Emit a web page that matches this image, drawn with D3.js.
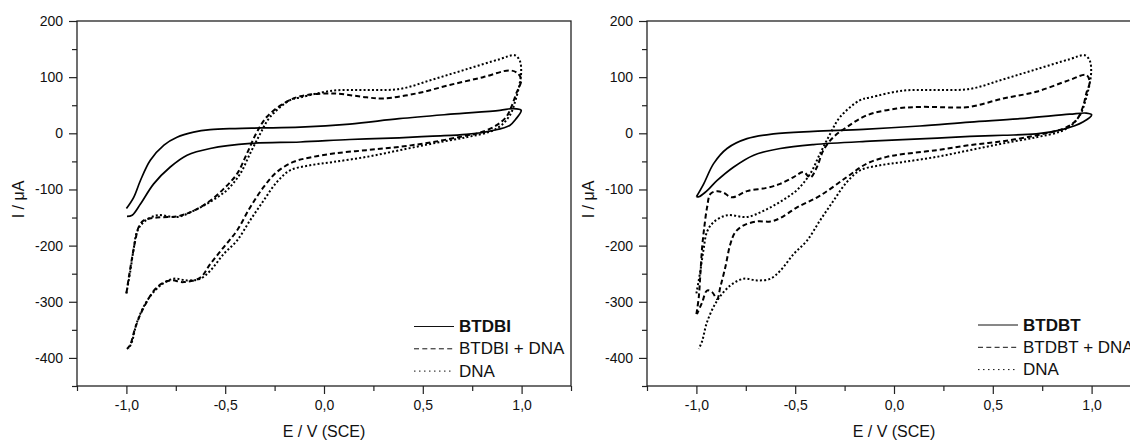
<!DOCTYPE html>
<html>
<head>
<meta charset="utf-8">
<title>Cyclic voltammograms</title>
<script src="https://cdn.jsdelivr.net/npm/d3@7"></script>
<style>
  body { margin: 0; background: #fff; }
  svg text { font-family: "Liberation Sans", Arial, sans-serif; fill: #111; }
</style>
</head>
<body>
<script>
// [E (V vs SCE), I (uA)], forward scan then reverse scan
const btdbi = [[-1.0,-134],[-0.963,-114],[-0.929,-84],[-0.879,-48],[-0.81,-21],[-0.744,-7],[-0.66,2],[-0.576,6.5],
  [-0.45,8.5],[-0.32,9.5],[-0.12,11],[0.13,16.5],[0.38,26],[0.64,34],[0.89,41],[0.955,44],[0.998,41],[0.97,25],
  [0.94,14],[0.855,5],[0.72,-2],[0.55,-5],[0.38,-8],[0.13,-11],[-0.12,-15.5],[-0.37,-18],[-0.576,-27],[-0.693,-39],
  [-0.778,-60],[-0.862,-90],[-0.929,-126],[-0.971,-146],[-0.997,-148]]

const btdbiDna = [[-1.0,-285],[-0.988,-257],[-0.971,-221],[-0.955,-191],[-0.938,-167],[-0.912,-155],[-0.845,-150],
  [-0.744,-148],[-0.66,-138],[-0.576,-120],[-0.508,-99],[-0.44,-72],[-0.39,-36],[-0.34,2],[-0.29,29],[-0.205,53],
  [-0.12,66],[0.047,71],[0.215,64],[0.3,62],[0.468,71],[0.636,86],[0.805,100],[0.94,112],[0.98,107],[0.998,95],
  [0.973,71],[0.948,47],[0.922,29],[0.872,14],[0.788,1],[0.72,-4],[0.552,-15.5],[0.384,-24],[0.215,-30],[0.047,-36],
  [-0.07,-43],[-0.155,-51],[-0.239,-69],[-0.306,-96],[-0.374,-132],[-0.44,-173],[-0.508,-203],[-0.576,-233],
  [-0.626,-257],[-0.71,-265],[-0.778,-262],[-0.845,-274],[-0.912,-310],[-0.955,-346],[-0.98,-376],[-0.997,-384]]

// DNA alone, the same trace in both panels
const dna = [[-1.0,-285],[-0.98,-245],[-0.963,-205],[-0.946,-175],[-0.912,-158],[-0.845,-146],[-0.744,-149],
  [-0.66,-138],[-0.576,-122],[-0.491,-101],[-0.424,-72],[-0.374,-36],[-0.323,-1],[-0.273,29],[-0.172,59],[-0.12,64],
  [0.047,76],[0.215,77],[0.384,79],[0.552,96],[0.72,114],[0.889,132],[0.965,139],[0.99,130],[0.998,112],[0.99,88],
  [0.97,60],[0.945,35],[0.9,15],[0.84,3],[0.72,-7],[0.552,-18],[0.384,-30],[0.215,-42],[0.047,-51],[-0.071,-57],
  [-0.172,-66],[-0.239,-87],[-0.306,-120],[-0.374,-155],[-0.44,-191],[-0.508,-215],[-0.576,-245],[-0.626,-259],
  [-0.693,-262],[-0.761,-259],[-0.828,-271],[-0.895,-298],[-0.946,-336],[-0.971,-370],[-0.988,-384]]

const btdbt = [[-1.0,-113],[-0.963,-90],[-0.913,-54],[-0.845,-27],[-0.744,-9.5],[-0.61,-1],[-0.408,3.5],[-0.155,7],
  [0.131,13],[0.384,20],[0.636,26],[0.889,34],[0.973,36],[1.0,33],[0.956,20],[0.855,7],[0.72,-1],[0.552,-3.5],
  [0.384,-5.5],[0.131,-10],[-0.121,-14],[-0.408,-20],[-0.576,-27],[-0.71,-39],[-0.811,-60],[-0.895,-84],
  [-0.955,-105],[-0.988,-113],[-1.0,-113]]

const btdbtDna = [[-1.0,-322],[-0.988,-292],[-0.98,-251],[-0.971,-203],[-0.96,-167],[-0.946,-132],[-0.929,-108],
  [-0.895,-103],[-0.862,-106],[-0.82,-114],[-0.744,-103],[-0.643,-97],[-0.576,-90],[-0.508,-78],[-0.458,-69],
  [-0.424,-79],[-0.39,-60],[-0.357,-30],[-0.306,-6.6],[-0.239,11],[-0.138,32],[0.013,44],[0.131,47],[0.3,46],
  [0.384,47],[0.552,62],[0.72,74],[0.889,95],[0.973,104],[0.99,92],[0.973,71],[0.956,47],[0.922,23],[0.855,8],
  [0.72,-3.6],[0.552,-14],[0.384,-21],[0.215,-30],[0.047,-37],[-0.037,-42],[-0.138,-54],[-0.239,-78],[-0.374,-111],
  [-0.491,-132],[-0.576,-151],[-0.626,-157],[-0.694,-157],[-0.761,-164],[-0.803,-176],[-0.828,-197],[-0.854,-239],
  [-0.879,-274],[-0.895,-295],[-0.92,-283],[-0.946,-280],[-0.971,-301],[-0.997,-322]]

const namesLeft = ["BTDBI", "BTDBI + DNA", "DNA"]
const namesRight = ["BTDBT", "BTDBT + DNA", "DNA"]

const xMajor = [-1, -0.5, 0, 0.5, 1]
const xMinor = [-1.25, -0.75, -0.25, 0.25, 0.75, 1.25]
const yMajor = [200, 100, 0, -100, -200, -300, -400]
const yMinor = [150, 50, -50, -150, -250, -350, -450]
const xTitle = "E / V (SCE)"
const yTitle = "I / μA"

let w = 1130
let h = 442
let pw = 494, ph = 365, mTop = 21

let panels = [
  {x0: 77, curves: [btdbi, btdbiDna, dna], names: namesLeft, legX: 414, legY: 332},
  {x0: 647, curves: [btdbt, btdbtDna, dna], names: namesRight, legX: 978, legY: 330.5}
]

// solid, dashed, dotted
let plotDash = [null, "5,3", "2,2.2"]
let plotWidth = [1.7, 2, 2]
let legendDash = [null, "5,3.3", "1.5,3.5"]

let svg = d3.select("body")
  .append("svg")
  .attr("width", w)
  .attr("height", h)
  .style("background-color", "white")

panels.forEach(p => {
  let x = d3.scaleLinear().domain([-1.25, 1.25]).range([p.x0, p.x0 + pw])
  let y = d3.scaleLinear().domain([-450, 200]).range([mTop + ph, mTop])
  let g = svg.append("g")

  let fmtX = d => d.toFixed(1).replace(".", ",")

  g.append("g")
    .attr("transform", `translate(0,${mTop + ph})`)
    .call(d3.axisBottom(x).tickValues(xMinor).tickSize(5).tickSizeOuter(0).tickFormat(() => ""))
  g.append("g")
    .attr("transform", `translate(0,${mTop + ph})`)
    .call(d3.axisBottom(x).tickValues(xMajor).tickSize(8).tickPadding(6).tickSizeOuter(0).tickFormat(fmtX))
  g.append("g")
    .attr("transform", `translate(${p.x0},0)`)
    .call(d3.axisLeft(y).tickValues(yMinor).tickSize(5).tickSizeOuter(0).tickFormat(() => ""))
  g.append("g")
    .attr("transform", `translate(${p.x0},0)`)
    .call(d3.axisLeft(y).tickValues(yMajor).tickSize(8).tickPadding(6).tickSizeOuter(0).tickFormat(d => String(d)))

  g.selectAll(".domain").remove()
  g.selectAll(".tick line").attr("stroke", "#222").attr("stroke-width", 1.2)
  g.selectAll(".tick text").attr("font-size", 14).attr("fill", "#111")
    .style("font-family", '"Liberation Sans", Arial, sans-serif')

  g.append("rect")
    .attr("x", p.x0)
    .attr("y", mTop)
    .attr("width", pw)
    .attr("height", ph)
    .attr("fill", "none")
    .attr("stroke", "#222")
    .attr("stroke-width", 1.3)

  let line = d3.line()
    .x(d => x(d[0]))
    .y(d => y(d[1]))
    .curve(d3.curveCatmullRom.alpha(0.5))

  p.curves.forEach((c, i) => {
    g.append("path")
      .attr("d", line(c))
      .attr("fill", "none")
      .attr("stroke", "#000")
      .attr("stroke-width", plotWidth[i])
      .attr("stroke-dasharray", plotDash[i])
  })

  // legend
  p.names.forEach((n, i) => {
    let ly = p.legY + i * 22.3
    g.append("line")
      .attr("x1", p.legX).attr("x2", p.legX + 40)
      .attr("y1", ly - 5.5).attr("y2", ly - 5.5)
      .attr("stroke", "#111")
      .attr("stroke-width", 1)
      .attr("stroke-dasharray", legendDash[i])
    g.append("text")
      .attr("x", p.legX + 45)
      .attr("y", ly)
      .attr("font-size", 17)
      .attr("font-weight", i == 0 ? "bold" : "normal")
      .text(n)
  })

  g.append("text")
    .attr("x", p.x0 + pw / 2)
    .attr("y", 437)
    .attr("text-anchor", "middle")
    .attr("font-size", 16)
    .text(xTitle)

  g.append("text")
    .attr("transform", `translate(${p.x0 - 53},${mTop + ph / 2 - 4}) rotate(-90)`)
    .attr("text-anchor", "middle")
    .attr("font-size", 16)
    .text(yTitle)
})
</script>
</body>
</html>
